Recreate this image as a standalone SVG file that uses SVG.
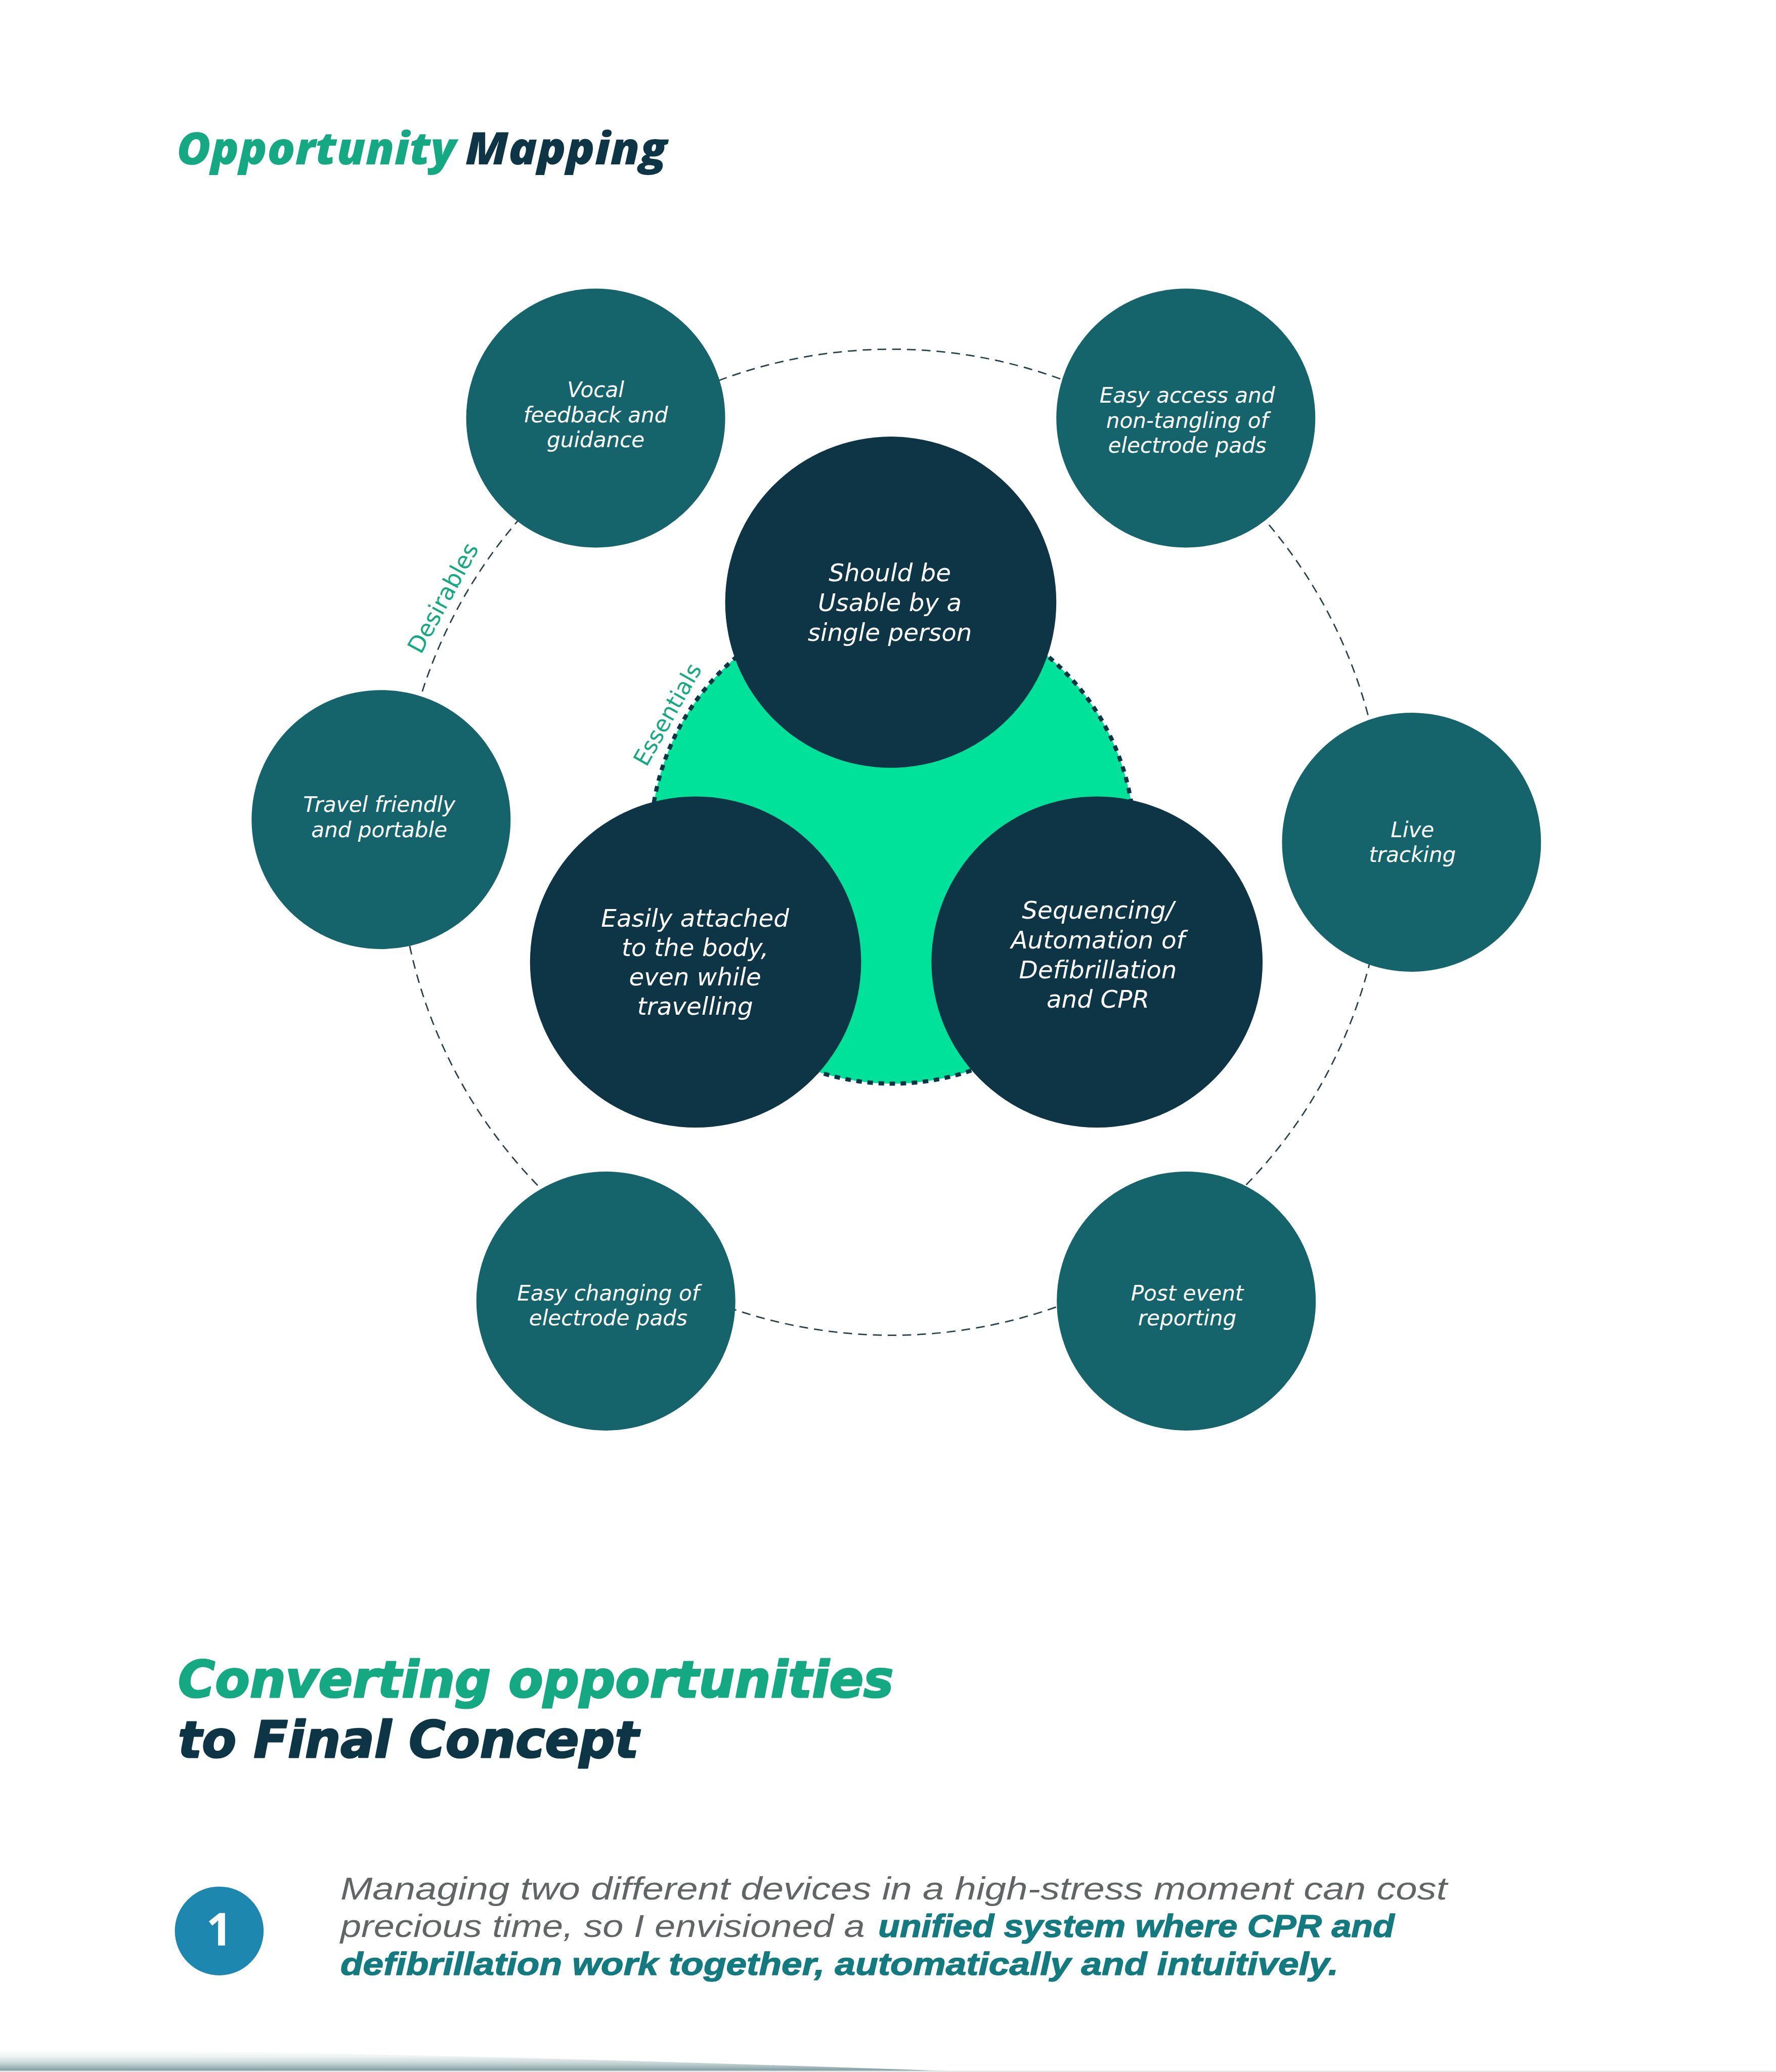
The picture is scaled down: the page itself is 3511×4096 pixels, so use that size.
<svg xmlns="http://www.w3.org/2000/svg" width="3511" height="4096" viewBox="0 0 3511 4096">
  <defs>
    <style>
      .head { font-family: "Open Sans", "Noto Sans", sans-serif; font-weight: 800; font-style: italic; }
      .head2 { font-family: "DejaVu Sans", "Liberation Sans", sans-serif; font-weight: 700; font-style: italic; stroke-width: 3.5; stroke-linejoin: round; }
      .green { fill: #14A982; }
      .dark { fill: #0E3546; }
      .head2.green { stroke: #14A982; }
      .head2.dark { stroke: #0E3546; }
      .sat { fill: #15636B; }
      .core { fill: #0E3546; }
      .satText { font-family: "DejaVu Sans", "Open Sans", sans-serif; font-style: italic; font-weight: 400; font-size: 46px; fill: #FFFFFF; text-anchor: middle; }
      .coreText { font-family: "DejaVu Sans", "Open Sans", sans-serif; font-style: italic; font-weight: 300; font-size: 53px; fill: #FFFFFF; text-anchor: middle; }
      .ringLabel { font-family: "DejaVu Sans", "Open Sans", sans-serif; font-weight: 400; fill: #14A982; text-anchor: middle; }
      .para { font-family: "Liberation Sans", Arial, sans-serif; font-style: italic; font-size: 68px; }
      .paraGray { fill: #616566; font-weight: 400; }
      .paraBold { fill: #137A80; font-weight: 700; stroke: #137A80; stroke-width: 1.5; stroke-linejoin: round; }
    </style>
    <linearGradient id="shade" x1="0" y1="0" x2="0" y2="1">
      <stop offset="0" stop-color="#FFFFFF" stop-opacity="0"/>
      <stop offset="1" stop-color="#6E9194"/>
    </linearGradient>
  </defs>
  <rect x="0" y="0" width="3511" height="4096" fill="#FFFFFF"/>
  <g transform="scale(0.9143)">
    <!-- Title -->
    <g id="title">
      <text class="head green" x="382" y="356" font-size="97" textLength="604" lengthAdjust="spacingAndGlyphs">Opportunity</text>
      <text class="head dark" x="1006" y="356" font-size="97" textLength="436" lengthAdjust="spacingAndGlyphs">Mapping</text>
    </g>

    <!-- Connectors: outer dashed ring -->
    <g id="connectors">
      <circle cx="1928" cy="1821" r="1066" fill="none" stroke="#24414C" stroke-width="3" stroke-dasharray="19 13"/>
    </g>

    <!-- Essentials core -->
    <g id="essentials-core">
      <circle cx="1930" cy="1820" r="523" fill="#00E19A" stroke="#0E3546" stroke-width="9" stroke-dasharray="12 12"/>
    </g>

    <g id="label-essentials">
      <text class="ringLabel" font-size="49" transform="translate(1458 1553) rotate(-60.5)">Essentials</text>
    </g>
    <g id="label-desirables">
      <text class="ringLabel" font-size="50" transform="translate(973 1301) rotate(-61.4)">Desirables</text>
    </g>

    <!-- Core nodes -->
    <g id="node-single-person">
      <circle class="core" cx="1926" cy="1302" r="358"/>
      <text class="coreText"><tspan x="1924" y="1257">Should be</tspan><tspan x="1924" y="1321">Usable by a</tspan><tspan x="1924" y="1386">single person</tspan></text>
    </g>
    <g id="node-attached">
      <circle class="core" cx="1504" cy="2080" r="358"/>
      <text class="coreText"><tspan x="1503" y="2004">Easily attached</tspan><tspan x="1503" y="2067">to the body,</tspan><tspan x="1503" y="2131">even while</tspan><tspan x="1503" y="2194">travelling</tspan></text>
    </g>
    <g id="node-sequencing">
      <circle class="core" cx="2372" cy="2080" r="358"/>
      <text class="coreText"><tspan x="2374" y="1986">Sequencing/</tspan><tspan x="2374" y="2051">Automation of</tspan><tspan x="2374" y="2115">Defibrillation</tspan><tspan x="2374" y="2179">and CPR</tspan></text>
    </g>

    <!-- Satellite nodes -->
    <g id="node-vocal">
      <circle class="sat" cx="1288" cy="904" r="280"/>
      <text class="satText"><tspan x="1288" y="859">Vocal</tspan><tspan x="1288" y="913">feedback and</tspan><tspan x="1288" y="967">guidance</tspan></text>
    </g>
    <g id="node-easy-access">
      <circle class="sat" cx="2564" cy="904" r="280"/>
      <text class="satText"><tspan x="2567" y="871">Easy access and</tspan><tspan x="2567" y="925">non-tangling of</tspan><tspan x="2567" y="979">electrode pads</tspan></text>
    </g>
    <g id="node-travel">
      <circle class="sat" cx="824" cy="1772" r="280"/>
      <text class="satText"><tspan x="820" y="1756">Travel friendly</tspan><tspan x="820" y="1810">and portable</tspan></text>
    </g>
    <g id="node-live">
      <circle class="sat" cx="3052" cy="1821" r="280"/>
      <text class="satText"><tspan x="3054" y="1810">Live</tspan><tspan x="3054" y="1864">tracking</tspan></text>
    </g>
    <g id="node-changing">
      <circle class="sat" cx="1310" cy="2813" r="280"/>
      <text class="satText"><tspan x="1315" y="2812">Easy changing of</tspan><tspan x="1315" y="2866">electrode pads</tspan></text>
    </g>
    <g id="node-post-event">
      <circle class="sat" cx="2565" cy="2813" r="280"/>
      <text class="satText"><tspan x="2567" y="2812">Post event</tspan><tspan x="2567" y="2866">reporting</tspan></text>
    </g>

    <!-- Lower heading -->
    <g id="heading-converting">
      <text class="head2 green" x="385" y="3670" font-size="110" textLength="1547" lengthAdjust="spacingAndGlyphs">Converting opportunities</text>
      <text class="head2 dark" x="385" y="3800" font-size="110" textLength="996" lengthAdjust="spacingAndGlyphs">to Final Concept</text>
    </g>

    <!-- Point 1 -->
    <g id="point-1">
      <circle cx="474" cy="4175" r="96" fill="#1D87AF"/>
      <text x="474" y="4207" font-family="'Open Sans', 'Noto Sans', sans-serif" font-weight="700" font-size="98" fill="#FFFFFF" text-anchor="middle">1</text>
      <text class="para paraGray" x="736" y="4107" textLength="2393" lengthAdjust="spacingAndGlyphs">Managing two different devices in a high-stress moment can cost</text>
      <text class="para paraGray" x="736" y="4188" textLength="1134" lengthAdjust="spacingAndGlyphs">precious time, so I envisioned a</text>
      <text class="para paraBold" x="1899" y="4188" textLength="1116" lengthAdjust="spacingAndGlyphs">unified system where CPR and</text>
      <text class="para paraBold" x="736" y="4270" textLength="2158" lengthAdjust="spacingAndGlyphs">defibrillation work together, automatically and intuitively.</text>
    </g>

    <!-- Bottom shading -->
    <path d="M0,4428 Q1000,4440 2110,4480 L0,4480 Z" fill="url(#shade)"/>
    <rect x="0" y="4477" width="3840" height="3" fill="#E6E9E9"/>
  </g>
</svg>
